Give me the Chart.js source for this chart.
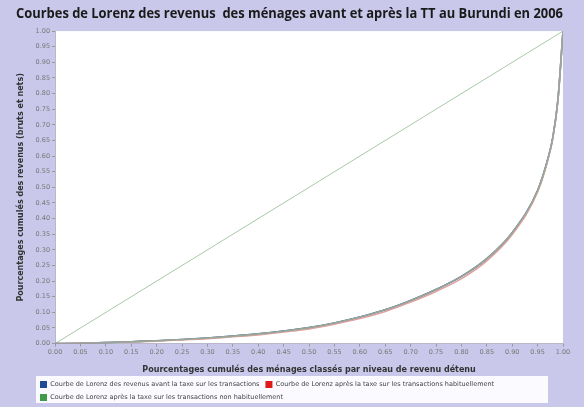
<!DOCTYPE html>
<html>
<head>
<meta charset="utf-8">
<script src="https://cdn.jsdelivr.net/npm/chart.js@4/dist/chart.umd.min.js"></script>
<style>
  html, body { margin: 0; padding: 0; background: #c9c8ea; }
  #wrap { width: 584px; height: 407px; position: relative; }
</style>
</head>
<body>
<div id="wrap"><canvas id="lorenz" width="584" height="407"></canvas></div>
<script>
// part cumulée des ménages (abscisses)
const menages = [0, 0.05, 0.10, 0.15, 0.20, 0.25, 0.30, 0.35, 0.40, 0.45, 0.50, 0.55, 0.60, 0.65, 0.70, 0.75, 0.80, 0.85, 0.90, 0.95, 0.97, 0.98, 0.99, 1.00];
// part cumulée des revenus
const avantTaxe = [0, 0.001, 0.003, 0.006, 0.009, 0.013, 0.018, 0.024, 0.031, 0.040, 0.051, 0.066, 0.085, 0.108, 0.138, 0.173, 0.215, 0.272, 0.355, 0.490, 0.590, 0.660, 0.780, 1.00];
const apresHabituel = [0, 0.001, 0.003, 0.005, 0.008, 0.012, 0.016, 0.022, 0.028, 0.037, 0.047, 0.062, 0.080, 0.103, 0.133, 0.167, 0.208, 0.265, 0.349, 0.485, 0.586, 0.657, 0.778, 1.00];
const apresNonHabituel = [0, 0.001, 0.003, 0.006, 0.009, 0.013, 0.018, 0.024, 0.031, 0.040, 0.051, 0.066, 0.085, 0.108, 0.138, 0.173, 0.215, 0.272, 0.355, 0.490, 0.590, 0.660, 0.780, 1.00];
const egalite = [0, 1];
const ticksAxe = [0, 0.05, 0.10, 0.15, 0.20, 0.25, 0.30, 0.35, 0.40, 0.45, 0.50, 0.55, 0.60, 0.65, 0.70, 0.75, 0.80, 0.85, 0.90, 0.95, 1.00];

const points = (ys) => ys.map((y, i) => ({ x: menages[i], y: y }));

// fond blanc du graphique et cadre de la légende
const fondPlugin = {
    id: 'fond',
    afterLayout(chart) {
        // décale la légende vers la droite, dans son cadre
        const lg = chart.legend;
        if (lg) {
            lg.left = 34;
            lg.right = 560;
        }
    },
    beforeDraw(chart) {
        const { ctx, chartArea, legend } = chart;
        ctx.save();
        ctx.fillStyle = '#ffffff';
        ctx.fillRect(chartArea.left, chartArea.top, chartArea.right - chartArea.left, chartArea.bottom - chartArea.top);
        if (legend) {
            ctx.fillStyle = '#fbfbff';
            ctx.fillRect(36, legend.top + 1, 512, 27);
        }
        ctx.restore();
    }
};

const baseLine = { pointRadius: 0, borderWidth: 1.6, fill: false, cubicInterpolationMode: 'monotone' };

new Chart(document.getElementById('lorenz'), {
    type: 'line',
    data: {
        datasets: [
            Object.assign({
                label: 'Courbe de Lorenz des revenus avant la taxe sur les transactions',
                data: points(avantTaxe),
                borderColor: '#1f4a9a',
                backgroundColor: '#1f4a9a',
                order: 3
            }, baseLine),
            Object.assign({
                label: 'Courbe de Lorenz après la taxe sur les transactions habituellement',
                data: points(apresHabituel),
                borderColor: '#e0a0a0',
                backgroundColor: '#e01818',
                order: 2
            }, baseLine),
            Object.assign({
                label: 'Courbe de Lorenz après la taxe sur les transactions non habituellement',
                data: points(apresNonHabituel),
                borderColor: '#98a898',
                backgroundColor: '#3f9a4a',
                order: 1
            }, baseLine),
            {
                label: 'egalite',
                data: egalite.map(v => ({ x: v, y: v })),
                borderColor: '#a9c8a9',
                borderWidth: 1,
                pointRadius: 0,
                fill: false,
                order: 4
            }
        ]
    },
    options: {
        responsive: false,
        animation: false,
        layout: { padding: { left: 16, right: 21, top: 0, bottom: -4 } },
        plugins: {
            title: {
                display: true,
                text: 'Courbes de Lorenz des revenus  des ménages avant et après la TT au Burundi en 2006',
                color: '#1a1a1a',
                font: { family: 'Open Sans', size: 13.4, weight: 'bold' },
                padding: { top: 6, bottom: 9 }
            },
            legend: {
                position: 'bottom',
                align: 'start',
                labels: {
                    boxWidth: 7,
                    boxHeight: 7,
                    padding: 6,
                    color: '#444',
                    font: { family: 'DejaVu Sans', size: 6.5 },
                    filter: (item) => item.text !== 'egalite',
                    generateLabels(chart) {
                        return chart.data.datasets.map((ds, i) => ({
                            text: ds.label,
                            fillStyle: ds.backgroundColor,
                            strokeStyle: ds.backgroundColor,
                            lineWidth: 0,
                            datasetIndex: i,
                            fontColor: '#444'
                        }));
                    }
                }
            },
            tooltip: { enabled: false }
        },
        scales: {
            x: {
                type: 'linear',
                min: 0,
                max: 1,
                afterBuildTicks(axis) { axis.ticks = ticksAxe.map(v => ({ value: v })); },
                ticks: {
                    callback: (v) => v.toFixed(2),
                    color: '#777',
                    font: { family: 'DejaVu Sans', size: 6.5 },
                    maxRotation: 0,
                    padding: 2
                },
                grid: { drawOnChartArea: false, tickLength: 3, color: '#999' },
                border: { color: '#b8b8c8' },
                title: {
                    display: true,
                    text: 'Pourcentages cumulés des ménages classés par niveau de revenu détenu',
                    color: '#333',
                    font: { family: 'DejaVu Sans', size: 8, weight: 'bold' },
                    padding: { top: 7, bottom: 0 }
                }
            },
            y: {
                type: 'linear',
                min: 0,
                max: 1,
                afterBuildTicks(axis) { axis.ticks = ticksAxe.map(v => ({ value: v })); },
                ticks: {
                    callback: (v) => v.toFixed(2),
                    color: '#777',
                    font: { family: 'DejaVu Sans', size: 6.5 },
                    padding: 2
                },
                grid: { drawOnChartArea: false, tickLength: 3, color: '#999' },
                border: { color: '#b8b8c8' },
                title: {
                    display: true,
                    text: 'Pourcentages cumulés des revenus (bruts et nets)',
                    color: '#333',
                    font: { family: 'DejaVu Sans', size: 8, weight: 'bold' },
                    padding: { top: 0, bottom: 8 }
                }
            }
        }
    },
    plugins: [fondPlugin]
});
</script>
</body>
</html>
